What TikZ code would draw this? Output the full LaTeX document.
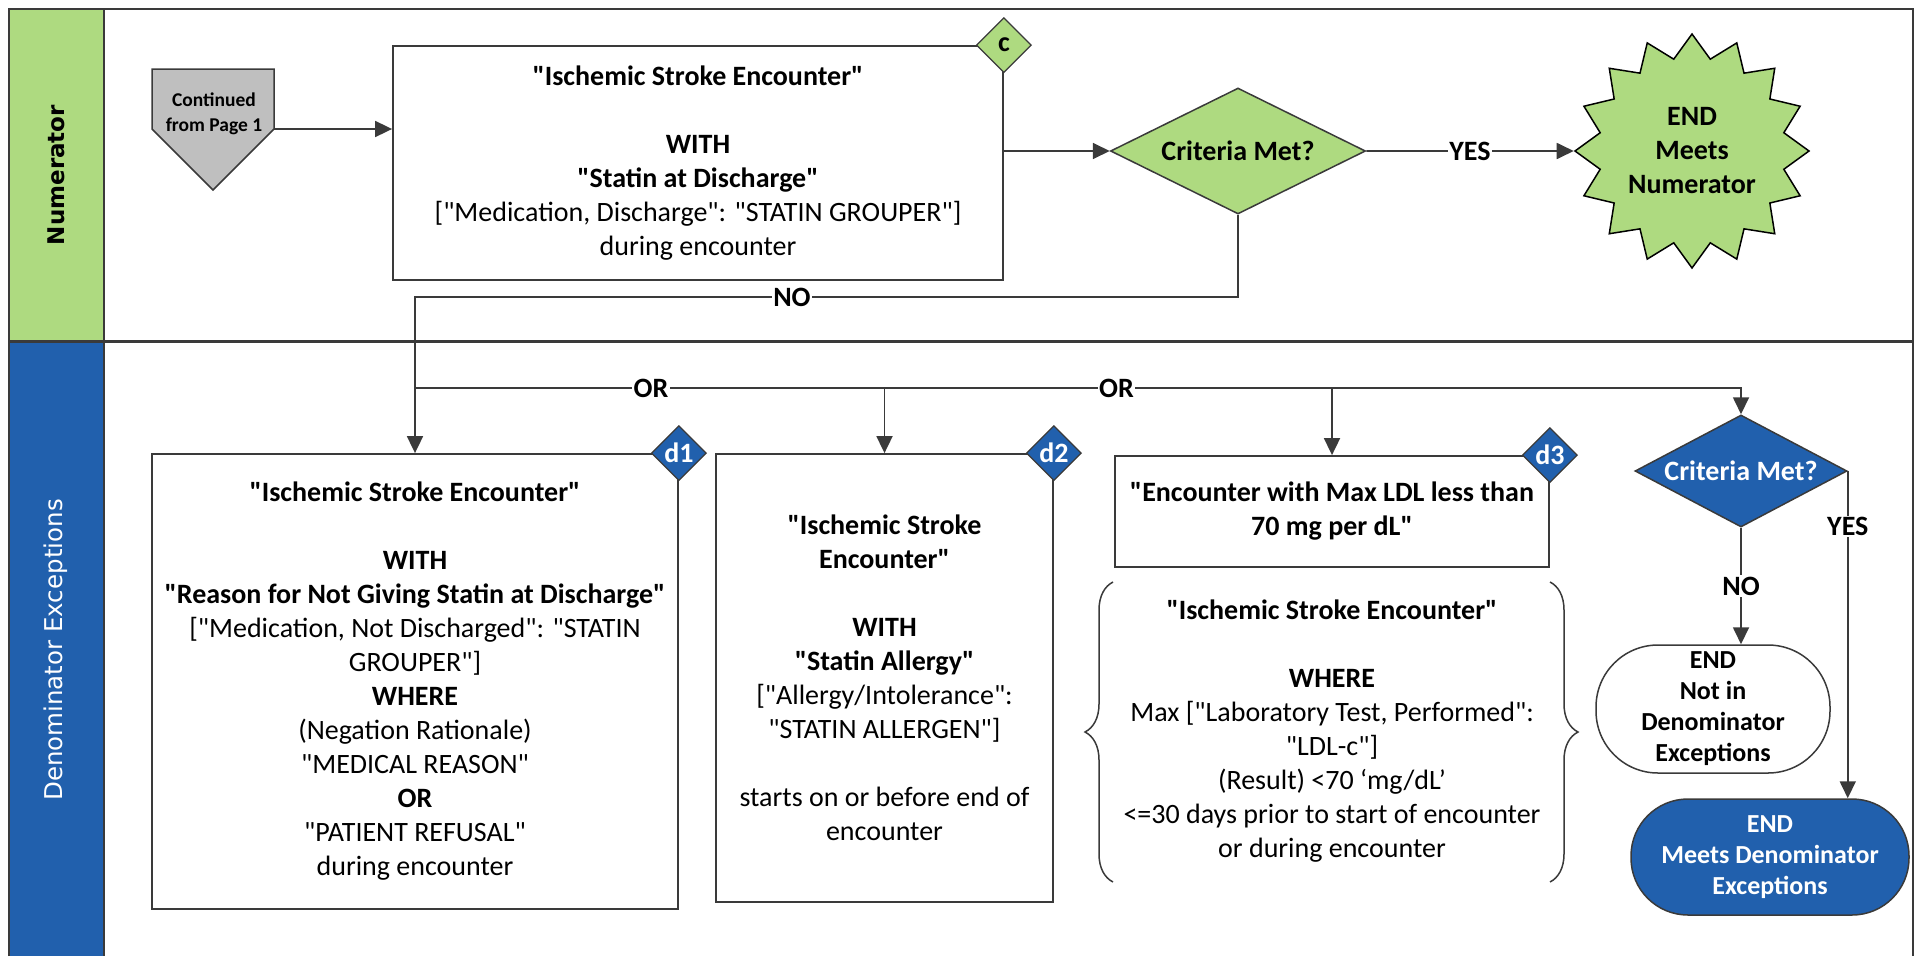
\documentclass[tikz,border=0pt]{standalone}
\usepackage{fontspec}
\setmainfont{Carlito}[Ligatures=TeXOff]
\newfontfamily\lanefont{DejaVu Sans}
\usetikzlibrary{shapes.geometric,arrows.meta,decorations.pathreplacing}
\definecolor{numgreen}{HTML}{AEDA80}
\definecolor{excblue}{HTML}{2160AD}
\definecolor{pagegray}{HTML}{BFBFBF}
\definecolor{edgegray}{HTML}{3A3A3A}
\newcommand{\flowfont}{\fontsize{28}{34}\selectfont}
\newcommand{\termfont}{\fontsize{26}{31}\selectfont}
\newcommand{\pagefont}{\fontsize{19.5}{25}\selectfont}

\begin{document}
\begin{tikzpicture}[x=1pt,y=-1pt,
    box/.style={draw=edgegray,line width=1.8pt,fill=white,align=center,inner sep=0pt,font=\flowfont},
    decide/.style={diamond,draw=edgegray,line width=1.5pt,aspect=2,inner sep=0pt,align=center,font=\flowfont\bfseries},
    tag/.style={diamond,draw=edgegray,line width=1.2pt,minimum size=55,inner sep=0pt,font=\flowfont\bfseries},
    term/.style={draw=edgegray,line width=1.5pt,align=center,inner sep=0pt,font=\termfont\bfseries},
    flow/.style={draw=edgegray,line width=1.8pt,-{Triangle[length=17pt,width=16pt]}},
    wire/.style={draw=edgegray,line width=1.8pt},
    lbl/.style={fill=white,inner sep=1.5pt,font=\flowfont\bfseries},
    lane/.style={draw=edgegray,line width=2.2pt}]
    \useasboundingbox (0,0) rectangle (1919,956);%

    % Drawing lane headers
    \fill [numgreen] (9,9) rectangle (104,341);%
    \fill [excblue] (9,341) rectangle (104,956);%
    \node [rotate=90, font={\lanefont\fontsize{23}{28}\selectfont\bfseries}] (numlane) at (56,175) {Numerator};%
    \node [rotate=90, text=white, font={\lanefont\fontsize{24.5}{30}\selectfont}] (exclane) at (56,650) {Denominator Exceptions};%

    % Drawing lane frame
    \draw [lane] (9,956) -- (9,9) -- (1913,9) -- (1913,956);%
    \draw [lane] (104,9) -- (104,956);%
    \draw [lane, line width=3pt] (9,341) -- (1913,341);%

    % Marking off-page connector
    \draw [line width=1.5pt, draw=edgegray, fill=pagegray] (152,69) -- (274,69) -- (274,129) -- (213,190) -- (152,129) -- cycle;%
    \node [align=center, font=\pagefont\bfseries] (contd) at (214,114) {Continued\\from Page 1};%
    \coordinate (contdout) at (274,129);%

    % Marking numerator box c
    \node [box, minimum width=610, minimum height=234] (numbox) at (698,163)
        {\textbf{"Ischemic Stroke Encounter"}\\[34pt]
         \textbf{WITH}\\
         \textbf{"Statin at Discharge"}\\
         {}["Medication, Discharge": "STATIN GROUPER"]\\
         during encounter};%
    \node [tag, fill=numgreen] (tagc) at (numbox.north east) {c};%

    % Marking numerator decision and end
    \node [decide, fill=numgreen, minimum width=255, minimum height=126] (crit) at (1238,151) {Criteria Met?};%
    \node [star, star points=16, star point ratio=1.25, minimum size=234, inner sep=0pt,
           draw=black, line width=1.5pt, fill=numgreen, align=center, font=\flowfont\bfseries]
        (endnum) at (1692,151) {END\\Meets\\Numerator};%

    % Marking exception boxes d1 d2 d3
    \node [box, minimum width=526, minimum height=455] (exc1) at (415,681.5)
        {\textbf{"Ischemic Stroke Encounter"}\\[34pt]
         \textbf{WITH}\\
         \textbf{"Reason for Not Giving Statin at Discharge"}\\
         {}["Medication, Not Discharged": "STATIN\\
         GROUPER"]\\
         \textbf{WHERE}\\
         (Negation Rationale)\\
         "MEDICAL REASON"\\
         \textbf{OR}\\
         "PATIENT REFUSAL"\\
         during encounter};%
    \node [tag, fill=excblue, text=white] (tagd1) at (exc1.north east) {d1};%

    \node [box, minimum width=337, minimum height=448] (exc2) at (884.5,678)
        {\textbf{"Ischemic Stroke}\\
         \textbf{Encounter"}\\[34pt]
         \textbf{WITH}\\
         \textbf{"Statin Allergy"}\\
         {}["Allergy/Intolerance":\\
         "STATIN ALLERGEN"]\\[34pt]
         starts on or before end of\\
         encounter};%
    \node [tag, fill=excblue, text=white] (tagd2) at (exc2.north east) {d2};%

    \node [box, minimum width=434, minimum height=111, font=\flowfont\bfseries] (ldlbox) at (1332,511.5)
        {"Encounter with Max LDL less than\\70 mg per dL"};%
    \node [tag, fill=excblue, text=white] (tagd3) at (ldlbox.north east) {d3};%

    \node [align=center, font=\flowfont] (ldlwhere) at (1332,731)
        {\textbf{"Ischemic Stroke Encounter"}\\[34pt]
         \textbf{WHERE}\\
         Max ["Laboratory Test, Performed":\\
         "LDL-c"]\\
         (Result) <70 ‘mg/dL’\\
         <=30 days prior to start of encounter\\
         or during encounter};%
    \draw [wire, line width=1.5pt, decorate, decoration={brace, amplitude=28pt}] (1113,882) -- (1113,582);%
    \draw [wire, line width=1.5pt, decorate, decoration={brace, amplitude=28pt}] (1550,582) -- (1550,882);%

    % Marking exception decision and ends
    \node [decide, fill=excblue, text=white, minimum width=212, minimum height=112] (exccrit) at (1741,471) {Criteria Met?};%
    \node [term, fill=white, minimum width=234, minimum height=128, rounded corners=62] (notden) at (1713,709)
        {END\\Not in\\Denominator\\Exceptions};%
    \node [term, fill=excblue, text=white, minimum width=278, minimum height=116, rounded corners=57] (meetden) at (1770,857)
        {END\\Meets Denominator\\Exceptions};%

    % Drawing connectors
    \coordinate (nojoin) at (415,297);%
    \coordinate (orsplit) at (415,388);%
    \draw [flow] (contdout) -- (contdout -| numbox.west);%
    \draw [flow] (crit.west -| numbox.east) -- (crit.west);%
    \draw [flow] (crit.east) -- node [lbl] {YES} (endnum.west);%
    \draw [flow] (crit.south) |- node [lbl, pos=0.771] {NO} (nojoin) -- (exc1.north);%
    \draw [flow] (orsplit) -| node [lbl, pos=0.089] {OR} node [lbl, pos=0.2645] {OR} (exccrit.north);%
    \draw [flow] (exc2.north |- orsplit) -- (exc2.north);%
    \draw [flow] (ldlbox.north |- orsplit) -- (ldlbox.north);%
    \draw [flow] (exccrit.south) -- node [lbl] {NO} (exccrit.south |- notden.north);%
    \draw [flow] (exccrit.east) -- node [lbl, pos=0.17] {YES} (exccrit.east |- meetden.north);%
\end{tikzpicture}
\end{document}
